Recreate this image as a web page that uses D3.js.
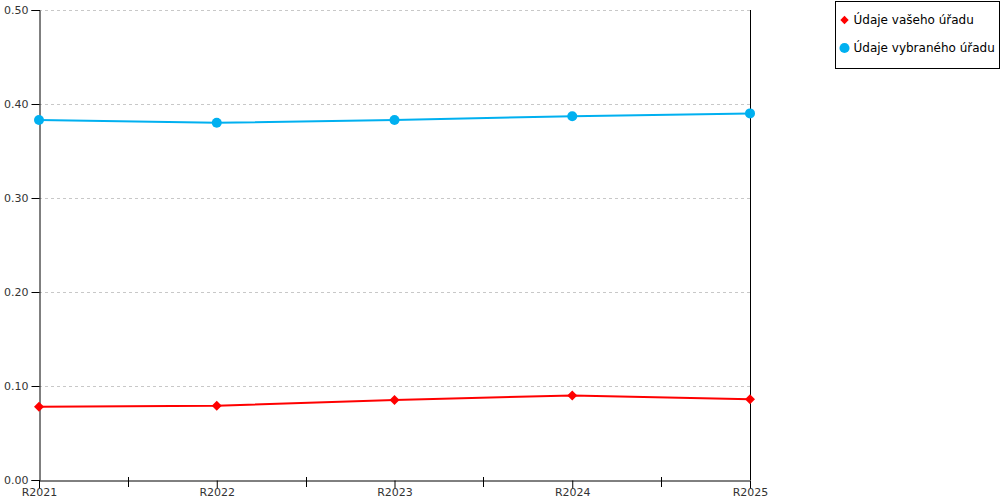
<!DOCTYPE html>
<html>
<head>
<meta charset="utf-8">
<script src="https://cdn.jsdelivr.net/npm/d3@7"></script>
<style>
  body { margin: 0; background: #fff; }
  text { font-family: "DejaVu Sans", Verdana, sans-serif; }
</style>
</head>
<body>
<div id="chart"></div>
<script>
const width = 1000;
const height = 500;

// data
const years = ["R2021", "R2022", "R2023", "R2024", "R2025"];
const yourOffice = [0.078, 0.079, 0.085, 0.090, 0.086];
const selectedOffice = [0.383, 0.380, 0.383, 0.387, 0.390];
const yTicks = [0, 0.1, 0.2, 0.3, 0.4, 0.5];
const seriesNames = ["Údaje vašeho úřadu", "Údaje vybraného úřadu"];
const seriesColors = ["#ff0000", "#00b0f0"];

const margin = { top: 10, right: 250, bottom: 20, left: 39 };

const svg = d3.select("#chart")
  .append("svg")
  .attr("width", width)
  .attr("height", height);

const x = d3.scalePoint()
  .domain(years)
  .range([margin.left, width - margin.right]);

const y = d3.scaleLinear()
  .domain([0, 0.5])
  .range([height - margin.bottom, margin.top]);

// ---------------------------
// Grid
// ---------------------------
svg.append("g")
  .selectAll("line")
  .data(yTicks.filter(d => d > 0))
  .join("line")
  .attr("x1", margin.left)
  .attr("x2", width - margin.right)
  .attr("y1", d => y(d) + 0.5)
  .attr("y2", d => y(d) + 0.5)
  .attr("stroke", "#c8c8c8")
  .attr("stroke-dasharray", "3,3");

// ---------------------------
// Axes
// ---------------------------
const yAxis = svg.append("g")
  .attr("transform", `translate(${margin.left + 0.5},0)`)
  .call(d3.axisLeft(y).tickValues(yTicks).tickFormat(d3.format(".2f")).tickSize(8).tickPadding(3));
yAxis.select(".domain").attr("stroke", "#000");
yAxis.selectAll("text").attr("font-size", 11).attr("fill", "#333");

// right border line
svg.append("line")
  .attr("x1", width - margin.right + 0.5)
  .attr("x2", width - margin.right + 0.5)
  .attr("y1", margin.top)
  .attr("y2", height - margin.bottom)
  .attr("stroke", "#000");

const xAxis = svg.append("g")
  .attr("transform", `translate(0,${height - margin.bottom + 0.5})`)
  .call(d3.axisBottom(x).tickSize(8).tickPadding(0).tickSizeOuter(0));
xAxis.select(".domain").attr("stroke", "#000");
xAxis.selectAll("text").attr("font-size", 11).attr("fill", "#333");

// minor ticks between categories
const mids = years.slice(1).map((d, i) => (x(years[i]) + x(d)) / 2);
svg.append("g")
  .selectAll("line")
  .data(mids)
  .join("line")
  .attr("x1", d => Math.round(d) + 0.5)
  .attr("x2", d => Math.round(d) + 0.5)
  .attr("y1", height - margin.bottom - 3)
  .attr("y2", height - margin.bottom + 7)
  .attr("stroke", "#000");

// ---------------------------
// Lines
// ---------------------------
const line = d3.line()
  .x((d, i) => x(years[i]))
  .y(d => y(d));

[yourOffice, selectedOffice].forEach((vals, k) => {
  svg.append("path")
    .datum(vals)
    .attr("fill", "none")
    .attr("stroke", seriesColors[k])
    .attr("stroke-width", 2)
    .attr("d", line);
});

// markers
svg.append("g")
  .selectAll("path")
  .data(yourOffice)
  .join("path")
  .attr("d", d3.symbol(d3.symbolDiamond2, 64))
  .attr("transform", (d, i) => `translate(${x(years[i])},${y(d)})`)
  .attr("fill", seriesColors[0]);

svg.append("g")
  .selectAll("circle")
  .data(selectedOffice)
  .join("circle")
  .attr("cx", (d, i) => x(years[i]))
  .attr("cy", d => y(d))
  .attr("r", 5)
  .attr("fill", seriesColors[1]);

// ---------------------------
// Legend
// ---------------------------
const legend = svg.append("g")
  .attr("transform", "translate(835.5,1.5)");

legend.append("rect")
  .attr("width", 164)
  .attr("height", 67)
  .attr("fill", "#fff")
  .attr("stroke", "#000");

const item = legend.selectAll("g")
  .data(seriesNames)
  .join("g")
  .attr("transform", (d, i) => `translate(9,${18.5 + i * 28})`);

item.append("path")
  .attr("d", (d, i) => i === 0
    ? d3.symbol(d3.symbolDiamond2, 45)()
    : d3.symbol(d3.symbolCircle, 80)())
  .attr("fill", (d, i) => seriesColors[i]);

item.append("text")
  .attr("x", 9)
  .attr("y", 4)
  .attr("font-size", 12)
  .attr("fill", "#000")
  .text(d => d);
</script>
</body>
</html>
